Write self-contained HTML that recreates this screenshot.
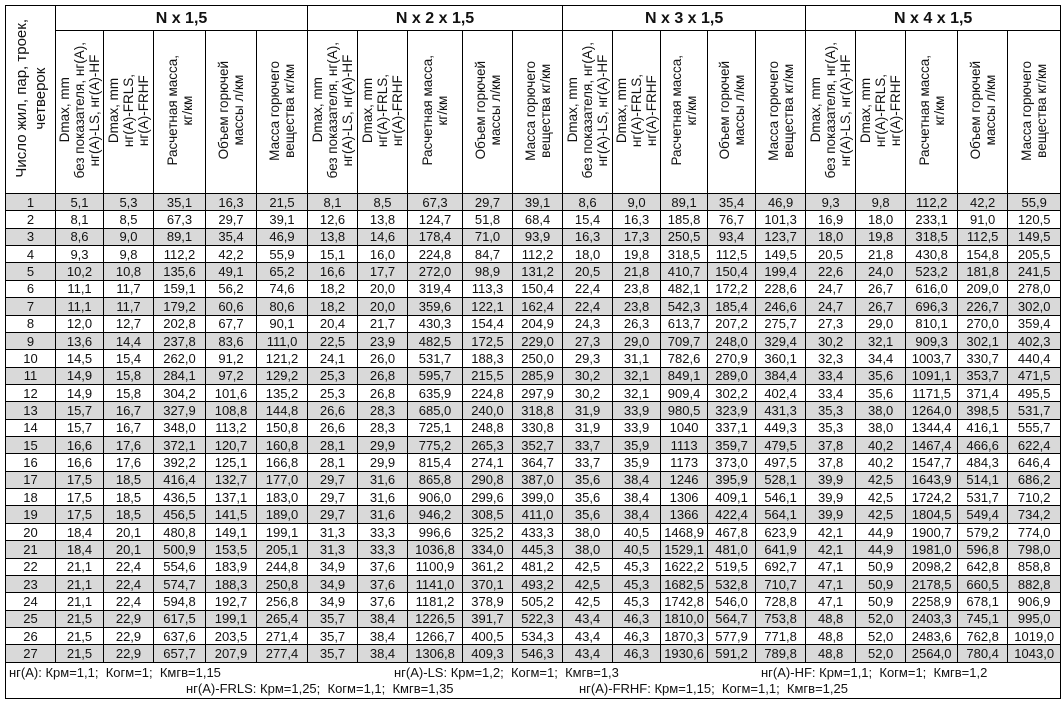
<!DOCTYPE html>
<html><head><meta charset="utf-8">
<style>
body{margin:0;background:#fff;width:1063px;height:701px;overflow:hidden;font-family:"Liberation Sans",Arial,sans-serif;}
table{position:absolute;left:5px;top:5px;border-collapse:collapse;table-layout:fixed;width:1055px;border:1.5px solid #000;}
td,th{border:1px solid #000;padding:0;text-align:center;font-size:13px;color:#111;line-height:15px;white-space:nowrap;overflow:hidden;}
th.g{font-size:16px;font-weight:bold;height:24px;}
th.r{height:162px;font-weight:normal;vertical-align:middle;}
.v{writing-mode:vertical-rl;transform:rotate(180deg);display:inline-block;font-size:13.5px;line-height:15px;text-align:center;}
th.c0 .v{font-size:15px;line-height:19px;}
tbody tr{height:17.37px;}
tbody tr:nth-child(odd) td{background:#d9d9d9;}
td.f{background:#fff!important;height:35px;position:relative;text-align:left;}
.f span{position:absolute;font-size:13px;}
</style></head><body>
<table>
<colgroup>
<col style="width:50px">
<col style="width:48px"><col style="width:50px"><col style="width:52px"><col style="width:51px"><col style="width:51px">
<col style="width:50px"><col style="width:50px"><col style="width:55px"><col style="width:50px"><col style="width:50px">
<col style="width:50px"><col style="width:48px"><col style="width:47px"><col style="width:48px"><col style="width:50px">
<col style="width:50px"><col style="width:50px"><col style="width:52px"><col style="width:50px"><col style="width:53px">
</colgroup>
<thead>
<tr><th class="r c0" rowspan="2"><span class="v">Число жил, пар, троек,<br>четверок</span></th>
<th class="g" colspan="5">N x 1,5</th><th class="g" colspan="5">N x 2 x 1,5</th><th class="g" colspan="5">N x 3 x 1,5</th><th class="g" colspan="5">N x 4 x 1,5</th></tr>
<tr>
<th class="r"><span class="v">Dmax, mm<br>без показателя, нг(А),<br>нг(А)-LS, нг(А)-HF</span></th><th class="r"><span class="v">Dmax, mm<br>нг(А)-FRLS,<br>нг(А)-FRHF</span></th><th class="r"><span class="v">Расчетная масса,<br>кг/км</span></th><th class="r"><span class="v">Объем горючей<br>массы л/км</span></th><th class="r"><span class="v">Масса горючего<br>вещества кг/км</span></th>
<th class="r"><span class="v">Dmax, mm<br>без показателя, нг(А),<br>нг(А)-LS, нг(А)-HF</span></th><th class="r"><span class="v">Dmax, mm<br>нг(А)-FRLS,<br>нг(А)-FRHF</span></th><th class="r"><span class="v">Расчетная масса,<br>кг/км</span></th><th class="r"><span class="v">Объем горючей<br>массы л/км</span></th><th class="r"><span class="v">Масса горючего<br>вещества кг/км</span></th>
<th class="r"><span class="v">Dmax, mm<br>без показателя, нг(А),<br>нг(А)-LS, нг(А)-HF</span></th><th class="r"><span class="v">Dmax, mm<br>нг(А)-FRLS,<br>нг(А)-FRHF</span></th><th class="r"><span class="v">Расчетная масса,<br>кг/км</span></th><th class="r"><span class="v">Объем горючей<br>массы л/км</span></th><th class="r"><span class="v">Масса горючего<br>вещества кг/км</span></th>
<th class="r"><span class="v">Dmax, mm<br>без показателя, нг(А),<br>нг(А)-LS, нг(А)-HF</span></th><th class="r"><span class="v">Dmax, mm<br>нг(А)-FRLS,<br>нг(А)-FRHF</span></th><th class="r"><span class="v">Расчетная масса,<br>кг/км</span></th><th class="r"><span class="v">Объем горючей<br>массы л/км</span></th><th class="r"><span class="v">Масса горючего<br>вещества кг/км</span></th>
</tr>
</thead>
<tbody>
<tr><td>1</td><td>5,1</td><td>5,3</td><td>35,1</td><td>16,3</td><td>21,5</td><td>8,1</td><td>8,5</td><td>67,3</td><td>29,7</td><td>39,1</td><td>8,6</td><td>9,0</td><td>89,1</td><td>35,4</td><td>46,9</td><td>9,3</td><td>9,8</td><td>112,2</td><td>42,2</td><td>55,9</td></tr>
<tr><td>2</td><td>8,1</td><td>8,5</td><td>67,3</td><td>29,7</td><td>39,1</td><td>12,6</td><td>13,8</td><td>124,7</td><td>51,8</td><td>68,4</td><td>15,4</td><td>16,3</td><td>185,8</td><td>76,7</td><td>101,3</td><td>16,9</td><td>18,0</td><td>233,1</td><td>91,0</td><td>120,5</td></tr>
<tr><td>3</td><td>8,6</td><td>9,0</td><td>89,1</td><td>35,4</td><td>46,9</td><td>13,8</td><td>14,6</td><td>178,4</td><td>71,0</td><td>93,9</td><td>16,3</td><td>17,3</td><td>250,5</td><td>93,4</td><td>123,7</td><td>18,0</td><td>19,8</td><td>318,5</td><td>112,5</td><td>149,5</td></tr>
<tr><td>4</td><td>9,3</td><td>9,8</td><td>112,2</td><td>42,2</td><td>55,9</td><td>15,1</td><td>16,0</td><td>224,8</td><td>84,7</td><td>112,2</td><td>18,0</td><td>19,8</td><td>318,5</td><td>112,5</td><td>149,5</td><td>20,5</td><td>21,8</td><td>430,8</td><td>154,8</td><td>205,5</td></tr>
<tr><td>5</td><td>10,2</td><td>10,8</td><td>135,6</td><td>49,1</td><td>65,2</td><td>16,6</td><td>17,7</td><td>272,0</td><td>98,9</td><td>131,2</td><td>20,5</td><td>21,8</td><td>410,7</td><td>150,4</td><td>199,4</td><td>22,6</td><td>24,0</td><td>523,2</td><td>181,8</td><td>241,5</td></tr>
<tr><td>6</td><td>11,1</td><td>11,7</td><td>159,1</td><td>56,2</td><td>74,6</td><td>18,2</td><td>20,0</td><td>319,4</td><td>113,3</td><td>150,4</td><td>22,4</td><td>23,8</td><td>482,1</td><td>172,2</td><td>228,6</td><td>24,7</td><td>26,7</td><td>616,0</td><td>209,0</td><td>278,0</td></tr>
<tr><td>7</td><td>11,1</td><td>11,7</td><td>179,2</td><td>60,6</td><td>80,6</td><td>18,2</td><td>20,0</td><td>359,6</td><td>122,1</td><td>162,4</td><td>22,4</td><td>23,8</td><td>542,3</td><td>185,4</td><td>246,6</td><td>24,7</td><td>26,7</td><td>696,3</td><td>226,7</td><td>302,0</td></tr>
<tr><td>8</td><td>12,0</td><td>12,7</td><td>202,8</td><td>67,7</td><td>90,1</td><td>20,4</td><td>21,7</td><td>430,3</td><td>154,4</td><td>204,9</td><td>24,3</td><td>26,3</td><td>613,7</td><td>207,2</td><td>275,7</td><td>27,3</td><td>29,0</td><td>810,1</td><td>270,0</td><td>359,4</td></tr>
<tr><td>9</td><td>13,6</td><td>14,4</td><td>237,8</td><td>83,6</td><td>111,0</td><td>22,5</td><td>23,9</td><td>482,5</td><td>172,5</td><td>229,0</td><td>27,3</td><td>29,0</td><td>709,7</td><td>248,0</td><td>329,4</td><td>30,2</td><td>32,1</td><td>909,3</td><td>302,1</td><td>402,3</td></tr>
<tr><td>10</td><td>14,5</td><td>15,4</td><td>262,0</td><td>91,2</td><td>121,2</td><td>24,1</td><td>26,0</td><td>531,7</td><td>188,3</td><td>250,0</td><td>29,3</td><td>31,1</td><td>782,6</td><td>270,9</td><td>360,1</td><td>32,3</td><td>34,4</td><td>1003,7</td><td>330,7</td><td>440,4</td></tr>
<tr><td>11</td><td>14,9</td><td>15,8</td><td>284,1</td><td>97,2</td><td>129,2</td><td>25,3</td><td>26,8</td><td>595,7</td><td>215,5</td><td>285,9</td><td>30,2</td><td>32,1</td><td>849,1</td><td>289,0</td><td>384,4</td><td>33,4</td><td>35,6</td><td>1091,1</td><td>353,7</td><td>471,5</td></tr>
<tr><td>12</td><td>14,9</td><td>15,8</td><td>304,2</td><td>101,6</td><td>135,2</td><td>25,3</td><td>26,8</td><td>635,9</td><td>224,8</td><td>297,9</td><td>30,2</td><td>32,1</td><td>909,4</td><td>302,2</td><td>402,4</td><td>33,4</td><td>35,6</td><td>1171,5</td><td>371,4</td><td>495,5</td></tr>
<tr><td>13</td><td>15,7</td><td>16,7</td><td>327,9</td><td>108,8</td><td>144,8</td><td>26,6</td><td>28,3</td><td>685,0</td><td>240,0</td><td>318,8</td><td>31,9</td><td>33,9</td><td>980,5</td><td>323,9</td><td>431,3</td><td>35,3</td><td>38,0</td><td>1264,0</td><td>398,5</td><td>531,7</td></tr>
<tr><td>14</td><td>15,7</td><td>16,7</td><td>348,0</td><td>113,2</td><td>150,8</td><td>26,6</td><td>28,3</td><td>725,1</td><td>248,8</td><td>330,8</td><td>31,9</td><td>33,9</td><td>1040</td><td>337,1</td><td>449,3</td><td>35,3</td><td>38,0</td><td>1344,4</td><td>416,1</td><td>555,7</td></tr>
<tr><td>15</td><td>16,6</td><td>17,6</td><td>372,1</td><td>120,7</td><td>160,8</td><td>28,1</td><td>29,9</td><td>775,2</td><td>265,3</td><td>352,7</td><td>33,7</td><td>35,9</td><td>1113</td><td>359,7</td><td>479,5</td><td>37,8</td><td>40,2</td><td>1467,4</td><td>466,6</td><td>622,4</td></tr>
<tr><td>16</td><td>16,6</td><td>17,6</td><td>392,2</td><td>125,1</td><td>166,8</td><td>28,1</td><td>29,9</td><td>815,4</td><td>274,1</td><td>364,7</td><td>33,7</td><td>35,9</td><td>1173</td><td>373,0</td><td>497,5</td><td>37,8</td><td>40,2</td><td>1547,7</td><td>484,3</td><td>646,4</td></tr>
<tr><td>17</td><td>17,5</td><td>18,5</td><td>416,4</td><td>132,7</td><td>177,0</td><td>29,7</td><td>31,6</td><td>865,8</td><td>290,8</td><td>387,0</td><td>35,6</td><td>38,4</td><td>1246</td><td>395,9</td><td>528,1</td><td>39,9</td><td>42,5</td><td>1643,9</td><td>514,1</td><td>686,2</td></tr>
<tr><td>18</td><td>17,5</td><td>18,5</td><td>436,5</td><td>137,1</td><td>183,0</td><td>29,7</td><td>31,6</td><td>906,0</td><td>299,6</td><td>399,0</td><td>35,6</td><td>38,4</td><td>1306</td><td>409,1</td><td>546,1</td><td>39,9</td><td>42,5</td><td>1724,2</td><td>531,7</td><td>710,2</td></tr>
<tr><td>19</td><td>17,5</td><td>18,5</td><td>456,5</td><td>141,5</td><td>189,0</td><td>29,7</td><td>31,6</td><td>946,2</td><td>308,5</td><td>411,0</td><td>35,6</td><td>38,4</td><td>1366</td><td>422,4</td><td>564,1</td><td>39,9</td><td>42,5</td><td>1804,5</td><td>549,4</td><td>734,2</td></tr>
<tr><td>20</td><td>18,4</td><td>20,1</td><td>480,8</td><td>149,1</td><td>199,1</td><td>31,3</td><td>33,3</td><td>996,6</td><td>325,2</td><td>433,3</td><td>38,0</td><td>40,5</td><td>1468,9</td><td>467,8</td><td>623,9</td><td>42,1</td><td>44,9</td><td>1900,7</td><td>579,2</td><td>774,0</td></tr>
<tr><td>21</td><td>18,4</td><td>20,1</td><td>500,9</td><td>153,5</td><td>205,1</td><td>31,3</td><td>33,3</td><td>1036,8</td><td>334,0</td><td>445,3</td><td>38,0</td><td>40,5</td><td>1529,1</td><td>481,0</td><td>641,9</td><td>42,1</td><td>44,9</td><td>1981,0</td><td>596,8</td><td>798,0</td></tr>
<tr><td>22</td><td>21,1</td><td>22,4</td><td>554,6</td><td>183,9</td><td>244,8</td><td>34,9</td><td>37,6</td><td>1100,9</td><td>361,2</td><td>481,2</td><td>42,5</td><td>45,3</td><td>1622,2</td><td>519,5</td><td>692,7</td><td>47,1</td><td>50,9</td><td>2098,2</td><td>642,8</td><td>858,8</td></tr>
<tr><td>23</td><td>21,1</td><td>22,4</td><td>574,7</td><td>188,3</td><td>250,8</td><td>34,9</td><td>37,6</td><td>1141,0</td><td>370,1</td><td>493,2</td><td>42,5</td><td>45,3</td><td>1682,5</td><td>532,8</td><td>710,7</td><td>47,1</td><td>50,9</td><td>2178,5</td><td>660,5</td><td>882,8</td></tr>
<tr><td>24</td><td>21,1</td><td>22,4</td><td>594,8</td><td>192,7</td><td>256,8</td><td>34,9</td><td>37,6</td><td>1181,2</td><td>378,9</td><td>505,2</td><td>42,5</td><td>45,3</td><td>1742,8</td><td>546,0</td><td>728,8</td><td>47,1</td><td>50,9</td><td>2258,9</td><td>678,1</td><td>906,9</td></tr>
<tr><td>25</td><td>21,5</td><td>22,9</td><td>617,5</td><td>199,1</td><td>265,4</td><td>35,7</td><td>38,4</td><td>1226,5</td><td>391,7</td><td>522,3</td><td>43,4</td><td>46,3</td><td>1810,0</td><td>564,7</td><td>753,8</td><td>48,8</td><td>52,0</td><td>2403,3</td><td>745,1</td><td>995,0</td></tr>
<tr><td>26</td><td>21,5</td><td>22,9</td><td>637,6</td><td>203,5</td><td>271,4</td><td>35,7</td><td>38,4</td><td>1266,7</td><td>400,5</td><td>534,3</td><td>43,4</td><td>46,3</td><td>1870,3</td><td>577,9</td><td>771,8</td><td>48,8</td><td>52,0</td><td>2483,6</td><td>762,8</td><td>1019,0</td></tr>
<tr><td>27</td><td>21,5</td><td>22,9</td><td>657,7</td><td>207,9</td><td>277,4</td><td>35,7</td><td>38,4</td><td>1306,8</td><td>409,3</td><td>546,3</td><td>43,4</td><td>46,3</td><td>1930,6</td><td>591,2</td><td>789,8</td><td>48,8</td><td>52,0</td><td>2564,0</td><td>780,4</td><td>1043,0</td></tr>
<tr><td class="f" colspan="21">
<span style="left:3px;top:2px">нг(A): Крм=1,1;&nbsp; Когм=1;&nbsp; Кмгв=1,15</span>
<span style="left:388px;top:2px">нг(A)-LS: Крм=1,2;&nbsp; Когм=1;&nbsp; Кмгв=1,3</span>
<span style="left:755px;top:2px">нг(A)-HF: Крм=1,1;&nbsp; Когм=1;&nbsp; Кмгв=1,2</span>
<span style="left:180px;top:18px">нг(A)-FRLS: Крм=1,25;&nbsp; Когм=1,1;&nbsp; Кмгв=1,35</span>
<span style="left:573px;top:18px">нг(A)-FRHF: Крм=1,15;&nbsp; Когм=1,1;&nbsp; Кмгв=1,25</span>
</td></tr>
</tbody>
</table>
</body></html>
